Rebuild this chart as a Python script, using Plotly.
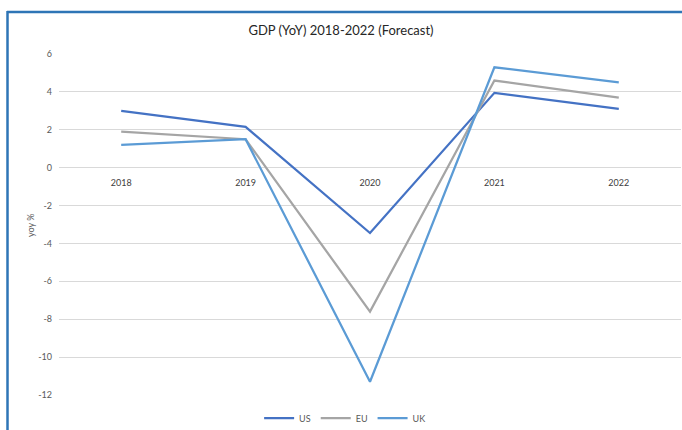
import plotly.graph_objects as go

years = ["2018", "2019", "2020", "2021", "2022"]
us = [3.0, 2.15, -3.45, 3.95, 3.1]
eu = [1.9, 1.5, -7.6, 4.6, 3.7]
uk = [1.2, 1.5, -11.3, 5.3, 4.5]
series_names = ["US", "EU", "UK"]
colors = ["#4472C4", "#A5A5A5", "#5B9BD5"]
y_tick_vals = [6, 4, 2, 0, -2, -4, -6, -8, -10, -12]
y_tick_text = ["6", "4", "2", "0", "-2", "-4", "-6", "-8", "-10", "-12"]

W, H = 682, 430
L, R, T, B = 59, 1, 54, 35
pw, ph = W - L - R, H - T - B

def px_x(x):
    return (x - L) / pw

def px_y(y):
    return (H - B - y) / ph

fig = go.Figure()
for name, vals, c in zip(series_names, [us, eu, uk], colors):
    fig.add_trace(go.Scatter(x=years, y=vals, name=name, mode="lines",
                             line=dict(color=c, width=2.25)))

ymin, ymax = -12, 6
fig.update_layout(
    width=W, height=H,
    margin=dict(l=L, r=R, t=T, b=B, autoexpand=False),
    paper_bgcolor="white", plot_bgcolor="white",
    font=dict(family="Lato, Open Sans, sans-serif", size=9, color="#595959"),
    title=dict(text="GDP (YoY) 2018-2022 (Forecast)", x=0.5, xanchor="center",
               y=1 - 30 / H, yanchor="middle",
               font=dict(size=13, color="#262626", family="Lato, Open Sans, sans-serif")),
    xaxis=dict(type="category", range=[-0.5, len(years) - 0.5], showgrid=False,
               zeroline=False, showline=False, automargin=False,
               anchor="free", position=(0 - ymin) / (ymax - ymin),
               ticks="", ticklabelstandoff=8, tickfont=dict(size=9, color="#404040")),
    yaxis=dict(range=[ymin, ymax], tickvals=y_tick_vals, ticktext=y_tick_text,
               showgrid=True, gridcolor="#D9D9D9", automargin=False,
               gridwidth=1, zeroline=False, showline=False, ticks="",
               ticklabelstandoff=6, tickfont=dict(size=9, color="#595959")),
    legend=dict(orientation="h", x=0.46, xanchor="center", y=px_y(418), yanchor="middle",
                font=dict(size=9, color="#595959"), itemwidth=30, tracegroupgap=0,
                bgcolor="rgba(0,0,0,0)"),
    showlegend=True,
)

fig.add_annotation(text="yoy %", textangle=-90, xref="paper", yref="paper",
                   x=px_x(30), y=px_y(226), showarrow=False,
                   xanchor="center", yanchor="middle",
                   font=dict(size=9, color="#595959"))

border = "#2E75B6"
fig.add_shape(type="line", xref="paper", yref="paper",
              x0=px_x(7), x1=px_x(684), y0=px_y(12), y1=px_y(12),
              line=dict(color=border, width=2.5))
fig.add_shape(type="line", xref="paper", yref="paper",
              x0=px_x(7.5), x1=px_x(7.5), y0=px_y(11), y1=px_y(432),
              line=dict(color=border, width=2.5))

fig.write_html("out.html")
